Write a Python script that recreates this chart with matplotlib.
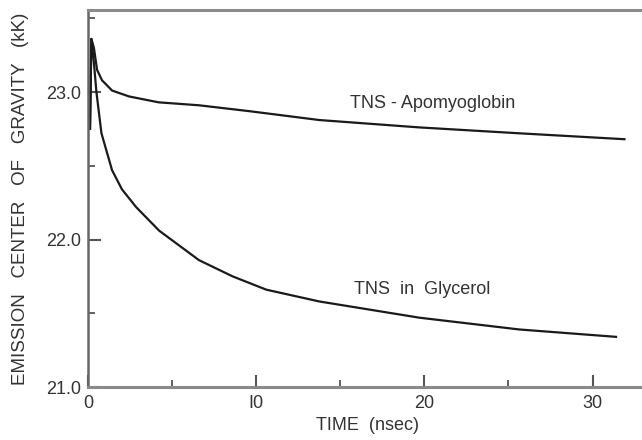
import matplotlib.pyplot as plt
from matplotlib.ticker import MultipleLocator

plt.rcParams['font.family'] = ['Liberation Sans', 'DejaVu Sans']

# data
t_apo = [0.12, 0.2, 0.35, 0.54, 0.83, 1.43, 2.44, 4.2, 6.6, 9.6, 13.75, 19.7, 25.65, 31.9]
v_apo = [22.75, 23.36, 23.3, 23.15, 23.08, 23.01, 22.97, 22.93, 22.91, 22.87, 22.81, 22.76, 22.72, 22.68]

t_gly = [0.12, 0.2, 0.35, 0.5, 0.8, 1.43, 2.02, 2.86, 4.23, 6.6, 8.6, 10.6, 13.75, 19.7, 25.65, 31.4]
v_gly = [22.75, 23.36, 23.2, 23.0, 22.72, 22.47, 22.34, 22.22, 22.06, 21.86, 21.75, 21.66, 21.58,
         21.47, 21.39, 21.34]

xticks = [0, 10, 20, 30]
xticklabels = ['0', 'I0', '20', '30']
yticks = [21.0, 22.0, 23.0]
yticklabels = ['21.0', '22.0', '23.0']

txt = '#333333'

fig = plt.figure(figsize=(6.42, 4.40), dpi=100)
ax = fig.add_axes([88 / 642, 1 - 387 / 440, 560 / 642, 377 / 440])

ax.plot(t_apo, v_apo, color='#1a1a1a', lw=1.6)
ax.plot(t_gly, v_gly, color='#1a1a1a', lw=1.6)

ax.set_xlim(0, 33.3)
ax.set_ylim(21.0, 23.556)

ax.set_xticks(xticks)
ax.set_xticklabels(xticklabels)
ax.set_yticks(yticks)
ax.set_yticklabels(yticklabels)
ax.xaxis.set_minor_locator(MultipleLocator(5))
ax.yaxis.set_minor_locator(MultipleLocator(0.5))

ax.tick_params(which='major', direction='in', length=9, width=1.5, color='#555555',
               labelsize=13, labelcolor=txt)
ax.tick_params(which='minor', direction='in', length=5, width=1.3, color='#555555')
ax.tick_params(axis='x', which='major', pad=6)
ax.tick_params(axis='y', which='major', pad=5)

for side in ['top', 'bottom']:
    ax.spines[side].set_color('#8a8a8a')
    ax.spines[side].set_linewidth(2.2)
ax.spines['left'].set_color('#666666')
ax.spines['left'].set_linewidth(1.8)
ax.spines['right'].set_visible(False)

ax.set_xlabel('TIME  (nsec)', fontsize=13, color=txt, labelpad=3)
ax.set_ylabel('EMISSION   CENTER   OF   GRAVITY   (kK)', fontsize=13.5, color=txt, labelpad=12)

ax.text(15.6, 22.92, 'TNS - Apomyoglobin', fontsize=13, color=txt, va='center')
ax.text(15.8, 21.66, 'TNS  in  Glycerol', fontsize=13, color=txt, va='center')

fig.savefig('out.png', dpi=100)
